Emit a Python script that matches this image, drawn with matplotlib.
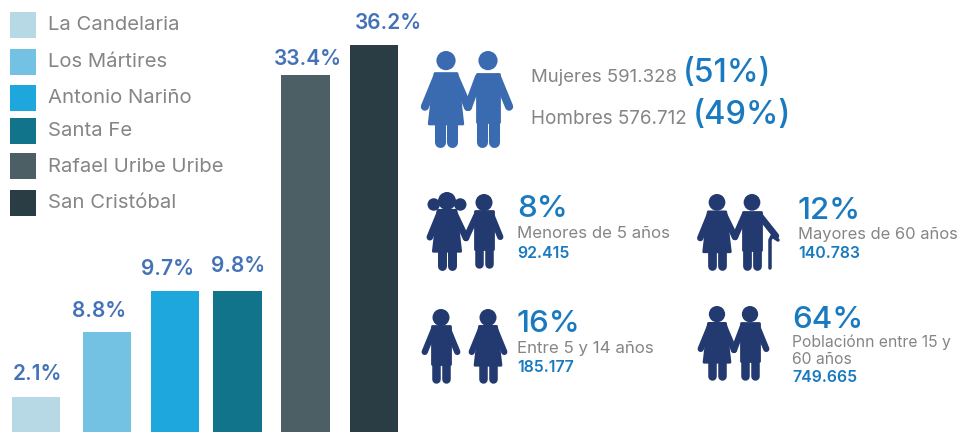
import matplotlib
matplotlib.use('Agg')
import matplotlib.pyplot as plt
from matplotlib.patches import Circle, Polygon, Rectangle

plt.rcParams['font.family'] = ['Inter', 'DejaVu Sans']

localidades = ['La Candelaria', 'Los Mártires', 'Antonio Nariño', 'Santa Fe',
               'Rafael Uribe Uribe', 'San Cristóbal']
# heights as drawn in the picture, they do not follow the labels
alturas = [3.3, 9.4, 13.2, 13.2, 33.4, 36.2]
etiquetas = ['2.1%', '8.8%', '9.7%', '9.8%', '33.4%', '36.2%']

genero = ['Mujeres 591.328', 'Hombres 576.712']
genero_pct = ['(51%)', '(49%)']

edad_pct = ['8%', '16%', '12%', '64%']
edad_txt = ['Menores de 5 años', 'Entre 5 y 14 años', 'Mayores de 60 años',
            'Poblaciónn entre 15 y\n60 años']
edad_num = ['92.415', '185.177', '140.783', '749.665']

colores = ['#b6d9e5', '#73c2e4', '#1ea7dd', '#12748a', '#4b5f65', '#2a3c44']
bar_x = [36, 107, 175, 237.5, 305.5, 374]
leg_y = [25, 61.5, 97.5, 131, 166, 203]
lab_x = [37, 99, 168, 238, 308, 388]
lab_y = [374, 311, 269, 266, 59, 23]

GRIS = '#858585'
AZUL = '#1a7abf'
AZUL_BAR = '#4372b6'
AZUL_ICO = '#3a6ab0'
NAVY = '#233a70'


def linea(ax, xs, ys, w, color):
    ax.plot(xs, ys, color=color, lw=w * 0.72, solid_capstyle='round',
            solid_joinstyle='round')


def persona(ax, cx, top, h, color, falda=False, mano_izq=None, mano_der=None,
            coletas=False, rc=0.115):
    r = rc * h
    ax.add_patch(Circle((cx, top + r), r, color=color, lw=0))
    hw = 0.115 * h
    y0 = top + 0.235 * h
    arm = 0.085 * h
    if falda:
        ax.add_patch(Polygon([(cx - hw, y0), (cx + hw, y0), (cx + 0.175 * h, top + 0.76 * h),
                              (cx - 0.175 * h, top + 0.76 * h)], facecolor=color,
                             edgecolor=color, lw=2, joinstyle='round'))
    else:
        ax.add_patch(Polygon([(cx - hw, y0), (cx + hw, y0), (cx + hw, top + 0.74 * h),
                              (cx - hw, top + 0.74 * h)], facecolor=color,
                             edgecolor=color, lw=2, joinstyle='round'))
    manoi = mano_izq if mano_izq else (cx - 0.22 * h, top + 0.58 * h)
    manod = mano_der if mano_der else (cx + 0.22 * h, top + 0.58 * h)
    linea(ax, [cx - hw + 0.02 * h, manoi[0]], [y0 + 0.04 * h, manoi[1]], arm, color)
    linea(ax, [cx + hw - 0.02 * h, manod[0]], [y0 + 0.04 * h, manod[1]], arm, color)
    for s in (-1, 1):
        linea(ax, [cx + s * 0.065 * h] * 2, [top + 0.65 * h, top + 0.95 * h], 0.115 * h, color)
    if coletas:
        for s in (-1, 1):
            ax.add_patch(Circle((cx + s * 0.17 * h, top + 0.16 * h), 0.08 * h, color=color, lw=0))


fig = plt.figure(figsize=(9.58, 4.32), dpi=100)

# bars
ax = fig.add_axes([0, 0, 1, 1])
ax.set_xlim(0, 958)
ax.set_ylim(0, 432 / 10.69)
ax.axis('off')
ax.bar(bar_x, alturas, width=48.5, color=colores)

# everything else in pixels of the picture
ov = fig.add_axes([0, 0, 1, 1])
ov.set_xlim(0, 958)
ov.set_ylim(432, 0)
ov.axis('off')
ov.patch.set_alpha(0)

for nombre, col, y in zip(localidades, colores, leg_y):
    ov.add_patch(Rectangle((10, y - 13), 26, 26, color=col, lw=0))
    ov.text(48, y + 0.5, nombre, color=GRIS, fontsize=14.6, va='center')

for lab, x, y in zip(etiquetas, lab_x, lab_y):
    ov.text(x, y, lab, color=AZUL_BAR, fontsize=15, ha='center', va='center', fontweight='semibold')

# top couple
persona(ov, 446, 51, 96, AZUL_ICO, falda=True, mano_der=(468, 107), rc=0.1)
persona(ov, 488, 51, 96, AZUL_ICO, mano_izq=(468, 107), rc=0.1)
ov.text(531, 77, genero[0], color=GRIS, fontsize=13.4, va='center')
ov.text(531, 119, genero[1], color=GRIS, fontsize=13.6, va='center')
ov.text(683, 74, genero_pct[0], color=AZUL, fontsize=23, va='center', fontweight='medium')
ov.text(693, 115, genero_pct[1], color=AZUL, fontsize=23.5, va='center', fontweight='medium')

# age groups
persona(ov, 447, 192, 78, NAVY, falda=True, mano_der=(466, 238), coletas=True)
persona(ov, 484, 194, 74, NAVY, mano_izq=(466, 238))
persona(ov, 441, 309, 74, NAVY)
persona(ov, 488, 309, 74, NAVY, falda=True)
persona(ov, 717, 194, 76, NAVY, falda=True, mano_der=(735, 237), rc=0.11)
persona(ov, 752, 194, 76, NAVY, mano_izq=(735, 237), mano_der=(776, 236), rc=0.11)
linea(ov, [778, 772, 770, 770], [240, 236, 240, 268], 3.5, NAVY)
persona(ov, 717, 306, 74, NAVY, falda=True, mano_der=(734, 350), rc=0.11)
persona(ov, 750, 306, 74, NAVY, mano_izq=(734, 350), rc=0.11)

pos_x = [517, 517, 798, 792]
pct_y = [209, 324, 211, 320]
txt_y = [234, 348, 234, 351]
num_y = [253, 367, 254, 378]
txt_fs = [12.1, 12.2, 11.9, 11.3]
for i in range(4):
    ov.text(pos_x[i], pct_y[i], edad_pct[i], color=AZUL, fontsize=22.5, va='center', fontweight='medium')
    ov.text(pos_x[i], txt_y[i], edad_txt[i], color=GRIS, fontsize=txt_fs[i], va='center', linespacing=1.2)
    ov.text(pos_x[i], num_y[i], edad_num[i], color=AZUL, fontsize=11.4, va='center', fontweight='semibold')

fig.savefig('out.png', dpi=100)
